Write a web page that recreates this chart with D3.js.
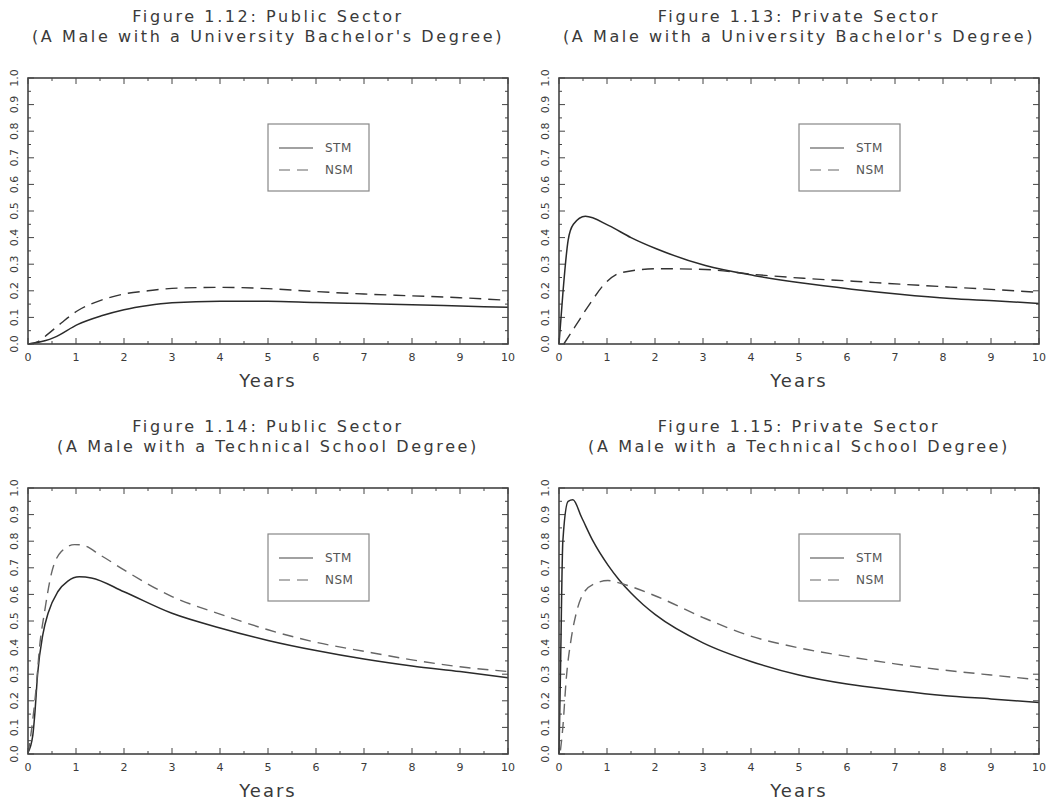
<!DOCTYPE html>
<html>
<head>
<meta charset="utf-8">
<script src="https://cdn.jsdelivr.net/npm/d3@7"></script>
<style>
body{margin:0;background:#fff}
text{font-family:"DejaVu Sans",sans-serif;fill:#3a3a3a}
</style>
</head>
<body>
<div id="chart"></div>
<script>
// titles of the four figures
const titles = ['Figure 1.12: Public Sector','Figure 1.13: Private Sector','Figure 1.14: Public Sector','Figure 1.15: Private Sector']
const subtitles = ["(A Male with a University Bachelor's Degree)","(A Male with a University Bachelor's Degree)",
	'(A Male with a Technical School Degree)','(A Male with a Technical School Degree)']
const xTickLabels = ['0','1','2','3','4','5','6','7','8','9','10']
const yTickLabels = ['0.0','0.1','0.2','0.3','0.4','0.5','0.6','0.7','0.8','0.9','1.0']
const seriesNames = ['STM','NSM']

// values (years, hazard)
const stm12X = [0,0.35,0.55,1.04,1.53,2,2.5,3,4,5,6,7,8,9,10]
const stm12Y = [0,0.012,0.025,0.074,0.106,0.129,0.145,0.155,0.161,0.161,0.156,0.152,0.148,0.143,0.138]
const nsm12X = [0,0.2,0.42,0.7,1.04,1.53,2,2.5,3,4,5,6,7,8,9,10]
const nsm12Y = [0,0.008,0.038,0.08,0.126,0.165,0.188,0.2,0.209,0.213,0.208,0.197,0.188,0.181,0.174,0.164]

const stm13X = [0,0.085,0.19,0.3,0.55,1.04,1.5,2.04,3.05,4.08,5.07,6.1,7.1,8.15,9.14,10]
const stm13Y = [0,0.2,0.39,0.45,0.48,0.445,0.4,0.357,0.295,0.257,0.229,0.206,0.187,0.171,0.162,0.152]
const nsm13X = [0.1,0.33,0.65,0.97,1.29,2.07,3.05,4.1,5.1,6.13,7.1,8.15,9.14,10]
const nsm13Y = [0,0.064,0.153,0.23,0.268,0.283,0.28,0.261,0.247,0.236,0.225,0.214,0.204,0.194]

const stm14X = [0,0.1,0.14,0.2,0.31,0.42,0.62,0.83,1.07,1.32,2,3,4,5,6,7,8,9,10]
const stm14Y = [0.006,0.07,0.146,0.3,0.45,0.53,0.61,0.65,0.666,0.662,0.61,0.529,0.474,0.427,0.389,0.357,0.331,0.31,0.287]
const nsm14X = [0,0.08,0.17,0.24,0.35,0.49,0.69,0.97,1.11,1.53,2,3,4,5,6,7,8,9,10]
const nsm14Y = [0,0.1,0.25,0.4,0.54,0.68,0.76,0.787,0.786,0.745,0.692,0.592,0.526,0.467,0.42,0.386,0.354,0.328,0.31]

const stm15X = [0,0.03,0.08,0.19,0.29,0.47,0.71,1.02,1.25,1.5,1.75,2,3,4,5,6,7,8,9,10]
const stm15Y = [0,0.3,0.8,0.95,0.956,0.89,0.8,0.71,0.655,0.605,0.562,0.525,0.418,0.348,0.297,0.263,0.24,0.22,0.207,0.194]
const nsm15X = [0.03,0.08,0.15,0.26,0.36,0.53,0.78,1.02,1.33,2,3,4,5,6,7,8,9,10]
const nsm15Y = [0.013,0.1,0.28,0.44,0.53,0.61,0.643,0.652,0.639,0.595,0.513,0.443,0.399,0.367,0.339,0.316,0.297,0.279]

const stmX = [stm12X,stm13X,stm14X,stm15X], stmY = [stm12Y,stm13Y,stm14Y,stm15Y]
const nsmX = [nsm12X,nsm13X,nsm14X,nsm15X], nsmY = [nsm12Y,nsm13Y,nsm14Y,nsm15Y]

const width = 1050, height = 801
const svg = d3.select('#chart').append('svg')
	.attr('width',width).attr('height',height)

const colLeft = [28,559], rowTop = [78,488]
const pw = 480, ph = 266

titles.forEach(function(t,i){
	const x0 = colLeft[i % 2], y0 = rowTop[Math.floor(i / 2)]
	const x = d3.scaleLinear().domain([0,10]).range([x0,x0 + pw])
	const y = d3.scaleLinear().domain([0,1]).range([y0 + ph,y0])
	const g = svg.append('g')
	const cx = x0 + pw / 2

	// two title lines
	g.append('text').attr('x',cx).attr('y',y0 - 56)
		.attr('text-anchor','middle').style('font-size','16px').style('letter-spacing','2.6px')
		.text(t)
	g.append('text').attr('x',cx).attr('y',y0 - 36)
		.attr('text-anchor','middle').style('font-size','16px').style('letter-spacing','2.6px')
		.text(subtitles[i])

	// ticks on all four sides, pointing in
	const xMinor = d3.range(0,10.01,0.5), yMinor = d3.range(0,1.001,0.05)
	const tickG = g.append('g').attr('stroke','#444').attr('stroke-width',1)
	xMinor.forEach(function(v,k){
		const len = k % 2 === 0 ? 6 : 3
		tickG.append('line').attr('x1',x(v)).attr('x2',x(v)).attr('y1',y(0)).attr('y2',y(0) - len)
		tickG.append('line').attr('x1',x(v)).attr('x2',x(v)).attr('y1',y(1)).attr('y2',y(1) + len)
	})
	yMinor.forEach(function(v,k){
		const len = k % 2 === 0 ? 6 : 3
		tickG.append('line').attr('y1',y(v)).attr('y2',y(v)).attr('x1',x(0)).attr('x2',x(0) + len)
		tickG.append('line').attr('y1',y(v)).attr('y2',y(v)).attr('x1',x(10)).attr('x2',x(10) - len)
	})

	// tick labels
	g.selectAll('.xl').data(xTickLabels).enter().append('text')
		.attr('x',function(d){return x(+d)}).attr('y',y(0) + 17)
		.attr('text-anchor','middle').style('font-size','11px')
		.text(function(d){return d})
	g.selectAll('.yl').data(yTickLabels).enter().append('text')
		.attr('transform',function(d){return `translate(${x0 - 14},${y(+d)}) rotate(-90)`})
		.attr('text-anchor','middle').attr('dy','0.35em').style('font-size','11px')
		.text(function(d){return d})

	g.append('text').attr('x',cx).attr('y',y0 + ph + 43)
		.attr('text-anchor','middle').style('font-size','18px').style('letter-spacing','2px')
		.text('Years')

	// curves
	const line = d3.line().x(function(d){return x(d[0])}).y(function(d){return y(d[1])}).curve(d3.curveMonotoneX)
	const stm = stmX[i].map(function(v,k){return [v,stmY[i][k]]})
	const nsm = nsmX[i].map(function(v,k){return [v,nsmY[i][k]]})
	g.append('path').attr('d',line(stm)).attr('fill','none')
		.attr('stroke','#2a2a2a').attr('stroke-width',1.5)
	g.append('path').attr('d',line(nsm)).attr('fill','none')
		.attr('stroke',i < 2 ? '#333' : '#666').attr('stroke-width',1.4)
		.attr('stroke-dasharray',i < 2 ? '12,7' : '11,7')

	// frame
	g.append('rect').attr('x',x0).attr('y',y0).attr('width',pw).attr('height',ph)
		.attr('fill','none').attr('stroke','#444').attr('stroke-width',1.6)

	// legend
	const lx = x(5), ly = y0 + 46
	const leg = g.append('g')
	leg.append('rect').attr('x',lx).attr('y',ly).attr('width',101).attr('height',67)
		.attr('fill','#fff').attr('stroke','#888').attr('stroke-width',1.2)
	seriesNames.forEach(function(s,k){
		const yy = ly + 24 + k * 22
		leg.append('line').attr('x1',lx + 11).attr('x2',lx + 45).attr('y1',yy).attr('y2',yy)
			.attr('stroke',k === 0 ? '#444' : '#666').attr('stroke-width',1.2)
			.attr('stroke-dasharray',k === 0 ? null : '11,7')
		leg.append('text').attr('x',lx + 57).attr('y',yy).attr('dy','0.35em')
			.style('font-size','12px').style('letter-spacing','0.5px').style('fill','#555')
			.text(s)
	})
})
</script>
</body>
</html>
